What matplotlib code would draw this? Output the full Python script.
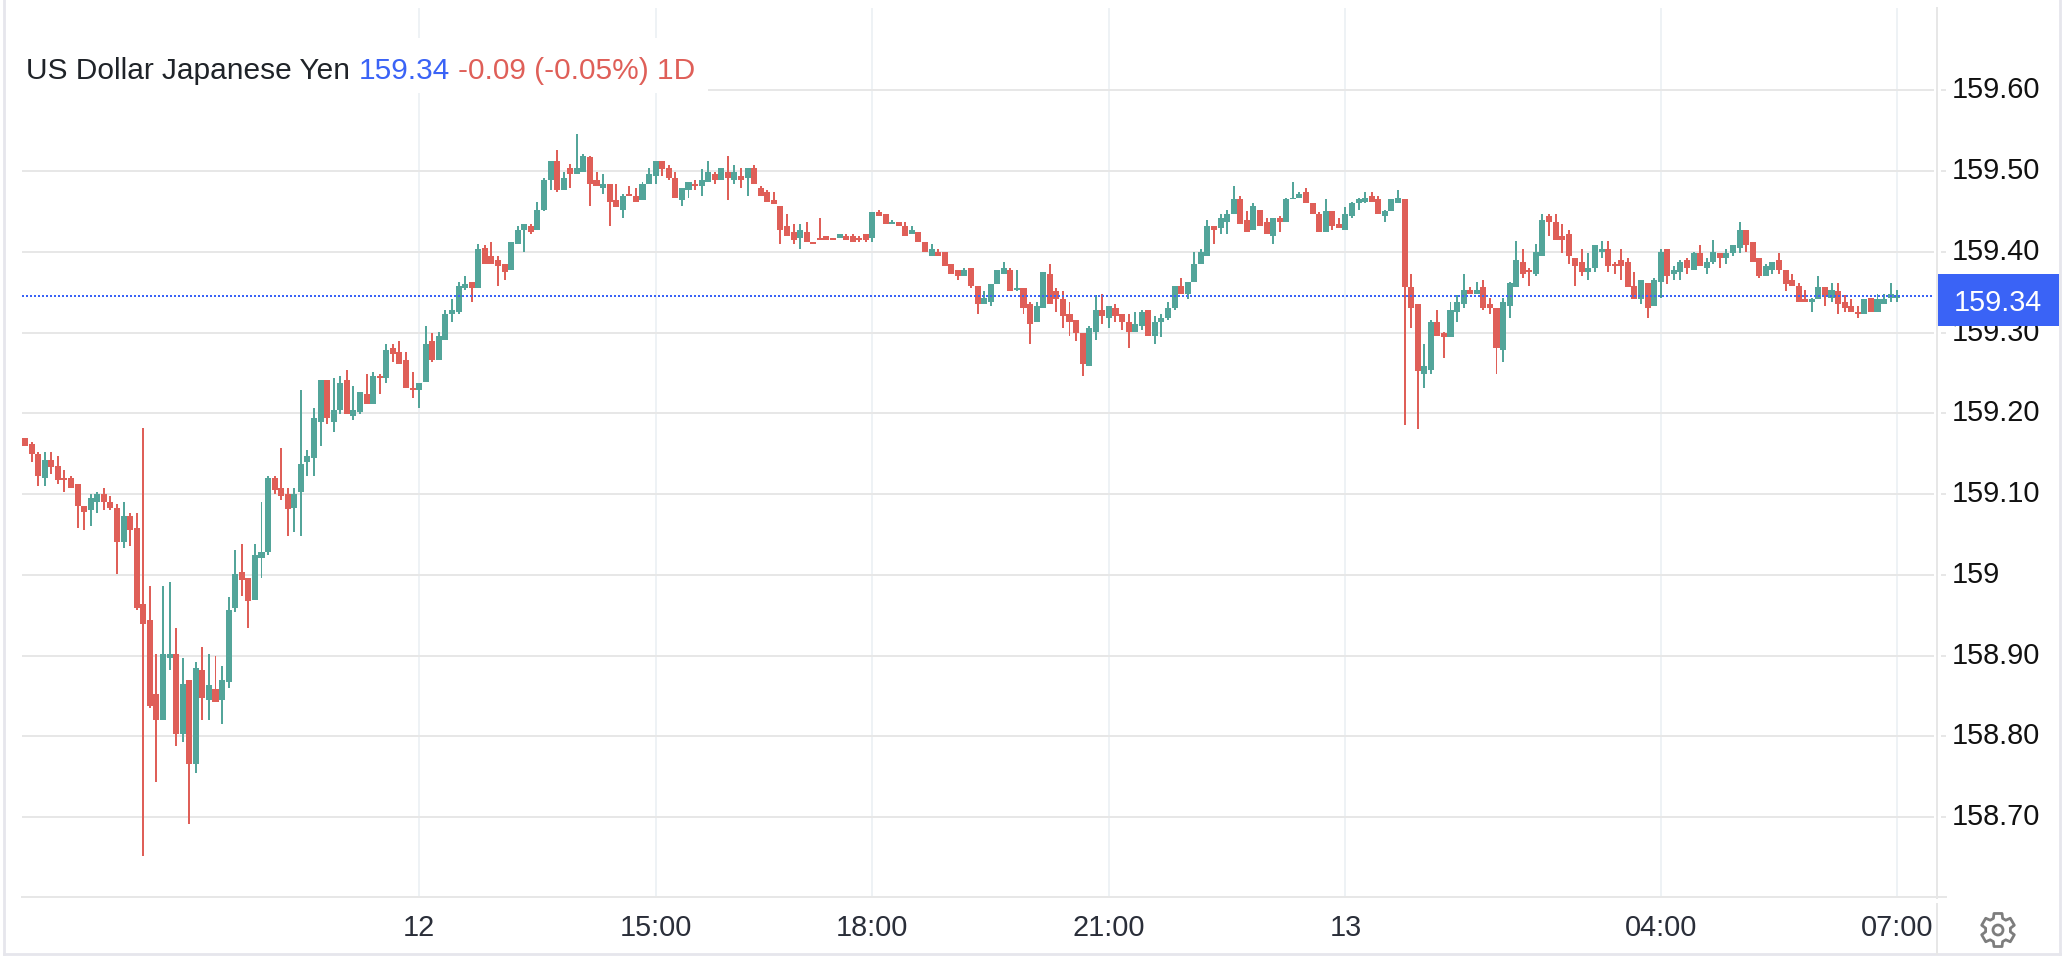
import numpy as np
import matplotlib
matplotlib.use("Agg")
import matplotlib.pyplot as plt
from matplotlib.lines import Line2D
from matplotlib.patches import Polygon, Rectangle, Circle
from matplotlib.transforms import Affine2D

plt.rcParams['font.family'] = ['Liberation Sans', 'DejaVu Sans']

# --- 5 minute candles ---
opens = [
    159.170,159.162,159.150,159.120,159.142,159.135,159.120,159.120,159.113,159.085,
    159.080,159.090,159.100,159.090,159.083,159.041,159.073,159.058,158.964,158.944,
    158.853,158.820,158.897,158.902,158.803,158.870,158.766,158.882,158.845,158.858,
    158.845,158.867,158.959,159.004,158.996,158.969,159.021,159.028,159.120,159.108,
    159.100,159.083,159.103,159.140,159.145,159.189,159.241,159.189,159.204,159.241,
    159.197,159.202,159.224,159.212,159.246,159.244,159.281,159.276,159.266,159.232,
    159.229,159.239,159.289,159.266,159.291,159.323,159.326,159.355,159.363,159.355,
    159.405,159.395,159.390,159.385,159.378,159.410,159.427,159.432,159.427,159.452,
    159.489,159.512,159.477,159.504,159.497,159.499,159.517,159.489,159.479,159.484,
    159.464,159.452,159.472,159.469,159.464,159.484,159.494,159.512,159.504,159.492,
    159.464,159.477,159.484,159.482,159.487,159.497,159.489,159.499,159.489,159.494,
    159.492,159.504,159.479,159.474,159.464,159.457,159.432,159.425,159.417,159.425,
    159.412,159.417,159.420,159.417,159.417,159.420,159.420,159.417,159.422,159.417,
    159.449,159.447,159.435,159.437,159.432,159.422,159.425,159.412,159.395,159.400,
    159.400,159.385,159.378,159.370,159.380,159.358,159.336,159.338,159.360,159.373,
    159.378,159.353,159.355,159.336,159.313,159.331,159.373,159.351,159.341,159.323,
    159.316,159.299,159.259,159.301,159.328,159.318,159.331,159.323,159.313,159.301,
    159.308,159.328,159.296,159.313,159.318,159.331,159.358,159.348,159.363,159.385,
    159.395,159.432,159.430,159.437,159.447,159.465,159.440,159.427,159.452,159.437,
    159.420,159.442,159.437,159.465,159.467,159.474,159.460,159.447,159.425,159.450,
    159.435,159.427,159.445,159.460,159.462,159.469,159.465,159.445,159.450,159.460,
    159.465,159.356,159.336,159.249,159.254,159.313,159.299,159.294,159.326,159.336,
    159.353,159.348,159.356,159.336,159.331,159.279,159.333,159.356,159.388,159.378,
    159.373,159.395,159.445,159.437,159.420,159.422,159.393,159.388,159.375,159.380,
    159.400,159.403,159.385,159.390,159.388,159.358,159.341,159.361,159.333,159.363,
    159.403,159.373,159.375,159.390,159.378,159.398,159.380,159.388,159.398,159.393,
    159.398,159.405,159.427,159.412,159.393,159.370,159.378,159.390,159.378,159.365,
    159.358,159.341,159.338,159.341,159.356,159.343,159.351,159.338,159.333,159.326,
    159.323,159.343,159.326,159.336,159.343,159.343,
]
highs = [
    159.170,159.165,159.152,159.152,159.152,159.147,159.130,159.123,159.113,159.085,
    159.100,159.103,159.108,159.098,159.088,159.090,159.076,159.076,159.182,158.986,
    158.902,158.986,158.991,158.934,158.897,158.870,158.892,158.910,158.902,158.900,
    158.887,158.972,159.031,159.038,158.996,159.038,159.090,159.123,159.123,159.157,
    159.108,159.108,159.229,159.155,159.207,159.241,159.241,159.244,159.246,159.254,
    159.234,159.227,159.249,159.251,159.249,159.286,159.286,159.289,159.276,159.251,
    159.237,159.308,159.299,159.301,159.328,159.341,159.363,159.370,159.363,159.410,
    159.408,159.412,159.395,159.385,159.412,159.432,159.435,159.435,159.462,159.492,
    159.512,159.526,159.499,159.509,159.546,159.521,159.519,159.499,159.497,159.484,
    159.484,159.472,159.482,159.479,159.487,159.504,159.512,159.512,159.507,159.499,
    159.479,159.487,159.489,159.502,159.512,159.499,159.504,159.519,159.507,159.504,
    159.504,159.507,159.482,159.477,159.474,159.457,159.447,159.435,159.435,159.437,
    159.412,159.442,159.420,159.417,159.422,159.422,159.422,159.420,159.422,159.449,
    159.452,159.447,159.440,159.437,159.437,159.432,159.425,159.412,159.410,159.403,
    159.400,159.385,159.378,159.380,159.380,159.358,159.351,159.360,159.378,159.388,
    159.380,159.378,159.355,159.338,159.338,159.375,159.385,159.355,159.351,159.338,
    159.316,159.299,159.308,159.346,159.348,159.333,159.336,159.323,159.323,159.326,
    159.328,159.328,159.321,159.323,159.338,159.358,159.368,159.363,159.400,159.403,
    159.440,159.432,159.447,159.452,159.482,159.469,159.450,159.460,159.452,159.442,
    159.442,159.445,159.467,159.487,159.474,159.479,159.460,159.449,159.465,159.450,
    159.442,159.455,159.462,159.467,159.474,159.474,159.469,159.452,159.465,159.477,
    159.465,159.373,159.336,159.286,159.316,159.328,159.301,159.338,159.346,159.373,
    159.356,159.363,159.365,159.343,159.331,159.343,159.363,159.413,159.403,159.380,
    159.410,159.447,159.447,159.447,159.435,159.427,159.393,159.403,159.398,159.408,
    159.413,159.413,159.388,159.403,159.393,159.375,159.365,159.361,159.368,159.403,
    159.403,159.383,159.390,159.393,159.400,159.408,159.393,159.415,159.398,159.403,
    159.408,159.437,159.427,159.412,159.393,159.385,159.388,159.398,159.378,159.373,
    159.361,159.353,159.343,159.370,159.356,159.361,159.361,159.346,159.341,159.333,
    159.341,159.343,159.348,159.348,159.361,159.353,
]
lows = [
    159.160,159.140,159.110,159.110,159.125,159.113,159.103,159.108,159.058,159.056,
    159.061,159.076,159.080,159.080,159.001,159.033,159.036,158.957,158.652,158.835,
    158.744,158.820,158.882,158.788,158.793,158.692,158.754,158.820,158.820,158.843,
    158.815,158.860,158.954,158.974,158.934,158.969,158.996,159.024,159.100,159.093,
    159.048,159.053,159.048,159.123,159.123,159.160,159.187,159.177,159.199,159.199,
    159.192,159.199,159.212,159.212,159.224,159.237,159.264,159.261,159.232,159.219,
    159.207,159.239,159.264,159.266,159.291,159.313,159.323,159.353,159.338,159.355,
    159.385,159.385,159.358,159.365,159.378,159.410,159.400,159.422,159.427,159.450,
    159.477,159.474,159.477,159.479,159.497,159.499,159.457,159.482,159.472,159.432,
    159.455,159.442,159.469,159.462,159.464,159.484,159.484,159.494,159.489,159.467,
    159.457,159.467,159.477,159.469,159.487,159.484,159.489,159.464,159.484,159.479,
    159.469,159.484,159.469,159.462,159.459,159.410,159.420,159.410,159.403,159.412,
    159.410,159.415,159.415,159.415,159.417,159.415,159.412,159.412,159.412,159.412,
    159.444,159.435,159.435,159.432,159.420,159.422,159.412,159.400,159.395,159.395,
    159.383,159.373,159.365,159.370,159.355,159.323,159.336,159.333,159.360,159.373,
    159.351,159.351,159.323,159.286,159.313,159.331,159.336,159.326,159.306,159.296,
    159.289,159.246,159.259,159.291,159.311,159.306,159.313,159.303,159.281,159.301,
    159.303,159.296,159.286,159.294,159.316,159.328,159.348,159.341,159.363,159.385,
    159.395,159.410,159.422,159.422,159.447,159.435,159.425,159.427,159.432,159.422,
    159.410,159.425,159.437,159.465,159.467,159.460,159.447,159.425,159.425,159.427,
    159.430,159.427,159.442,159.452,159.460,159.462,159.447,159.437,159.450,159.460,
    159.185,159.306,159.180,159.232,159.249,159.296,159.269,159.294,159.313,159.331,
    159.348,159.348,159.328,159.323,159.249,159.264,159.318,159.356,159.368,159.358,
    159.370,159.395,159.420,159.415,159.398,159.385,159.358,159.370,159.365,159.375,
    159.393,159.375,159.373,159.365,159.356,159.341,159.336,159.318,159.333,159.343,
    159.360,159.365,159.365,159.373,159.378,159.383,159.373,159.385,159.380,159.385,
    159.395,159.398,159.400,159.388,159.368,159.370,159.373,159.373,159.351,159.358,
    159.338,159.338,159.325,159.341,159.333,159.338,159.323,159.326,159.326,159.318,
    159.323,159.326,159.326,159.336,159.338,159.338,
]
closes = [
    159.160,159.150,159.123,159.142,159.133,159.118,159.118,159.108,159.085,159.078,
    159.095,159.100,159.090,159.083,159.041,159.073,159.056,158.959,158.939,158.838,
    158.820,158.902,158.902,158.803,158.865,158.766,158.885,158.848,158.863,158.843,
    158.870,158.957,159.001,158.994,158.967,159.024,159.028,159.120,159.105,159.098,
    159.081,159.100,159.137,159.147,159.194,159.241,159.194,159.204,159.237,159.199,
    159.204,159.227,159.212,159.246,159.244,159.279,159.274,159.261,159.232,159.229,
    159.237,159.286,159.266,159.296,159.323,159.328,159.358,159.360,159.355,159.403,
    159.385,159.385,159.383,159.375,159.412,159.427,159.435,159.425,159.452,159.489,
    159.512,159.477,159.492,159.497,159.504,159.519,159.484,159.482,159.484,159.462,
    159.455,159.469,159.469,159.462,159.484,159.497,159.512,159.502,159.492,159.467,
    159.479,159.487,159.482,159.489,159.499,159.489,159.504,159.492,159.499,159.489,
    159.504,159.484,159.469,159.462,159.459,159.427,159.420,159.415,159.427,159.412,
    159.410,159.415,159.415,159.415,159.422,159.415,159.412,159.415,159.415,159.449,
    159.444,159.435,159.437,159.432,159.420,159.427,159.412,159.400,159.403,159.395,
    159.383,159.373,159.370,159.378,159.358,159.336,159.343,159.360,159.378,159.380,
    159.351,159.355,159.331,159.311,159.333,159.375,159.336,159.341,159.321,159.313,
    159.299,159.261,159.306,159.328,159.321,159.333,159.321,159.313,159.301,159.311,
    159.326,159.296,159.313,159.318,159.331,159.358,159.348,159.363,159.385,159.400,
    159.432,159.427,159.442,159.447,159.465,159.435,159.425,159.457,159.432,159.422,
    159.442,159.437,159.465,159.467,159.472,159.460,159.447,159.425,159.450,159.432,
    159.430,159.447,159.460,159.465,159.467,159.462,159.447,159.450,159.465,159.467,
    159.356,159.331,159.252,159.259,159.313,159.296,159.294,159.328,159.338,159.353,
    159.348,159.353,159.331,159.331,159.281,159.338,159.361,159.390,159.373,159.375,
    159.400,159.440,159.437,159.415,159.415,159.395,159.383,159.375,159.380,159.408,
    159.403,159.383,159.383,159.383,159.356,159.341,159.365,159.331,159.365,159.400,
    159.370,159.378,159.388,159.380,159.398,159.383,159.388,159.400,159.393,159.398,
    159.408,159.427,159.408,159.388,159.370,159.383,159.388,159.378,159.360,159.358,
    159.338,159.338,159.341,159.356,159.346,159.353,159.336,159.331,159.326,159.323,
    159.341,159.326,159.341,159.341,159.348,159.346,
]

last_price = 159.345
y_ticks = [159.6, 159.5, 159.4, 159.3, 159.2, 159.1, 159.0, 158.9, 158.8, 158.7]
y_labels = ['159.60', '159.50', '159.40', '159.30', '159.20', '159.10', '159', '158.90', '158.80', '158.70']
# candle number under each time label
x_ticks = [60, 96, 129, 165, 201, 249, 285]
x_labels = ['12', '15:00', '18:00', '21:00', '13', '04:00', '07:00']

W, H = 2064, 956
GREEN = '#53a59a'
RED = '#df5f58'
BLUE = '#3a63f6'
GRID = '#e7e7e7'
VGRID = '#eef2f5'
FRAME = '#e6e6ec'
GEAR = '#7d7d7d'
LINE_W = 1.44  # 2 px

fig = plt.figure(figsize=(W / 100, H / 100), dpi=100)
# pixel coordinates, measured from the top left of the picture
px = Affine2D().scale(1, -1).translate(0, H)

ax = fig.add_axes([22 / W, 1 - 897 / H, (1934 - 22) / W, (897 - 8) / H])
idx = np.arange(len(opens))
o, h, l, c = map(np.array, (opens, highs, lows, closes))
colors = [GREEN if cc >= oo else RED for oo, cc in zip(o, c)]

# wicks and bodies, both as bars so that they snap to whole pixels
ax.bar(idx, h - l, bottom=l, width=0.3, color=colors, linewidth=0, zorder=3)
ax.bar(idx, np.abs(c - o), bottom=np.minimum(o, c), width=0.92, color=colors, linewidth=0, zorder=3)
ax.axhline(last_price, color=BLUE, linewidth=LINE_W, linestyle=(0, (1, 1)), zorder=4)

ax.set_xlim(-0.457, 290.6)
ax.set_ylim(158.601, 159.702)

ax.set_yticks(y_ticks, y_labels)
ax.yaxis.tick_right()
ax.tick_params(axis='y', length=8.6, width=LINE_W, color=GRID, labelsize=20.8, pad=4, labelcolor='#111111')
ax.set_xticks(x_ticks, x_labels)
ax.tick_params(axis='x', length=0, labelsize=20.8, pad=12, labelcolor='#2a2e39')
ax.grid(True, axis='y', color=GRID, linewidth=LINE_W)
ax.grid(True, axis='x', color=VGRID, linewidth=LINE_W)
ax.set_axisbelow(True)

# the price labels sit a little above their grid lines
for label in ax.get_yticklabels():
    label.set_transform(label.get_transform() + Affine2D().translate(0, 3))

for side in ('top', 'left', 'right'):
    ax.spines[side].set_visible(False)
ax.spines['bottom'].set_color(GRID)
ax.spines['bottom'].set_linewidth(LINE_W)

# white strip behind the header text
ax.add_patch(Rectangle((22, 93), 686, -55, transform=px, facecolor='white', edgecolor='none', zorder=2))

# small gap between the grid and the price scale line
fig.add_artist(Rectangle((1934, 8), 7, 890, transform=px, facecolor='white', edgecolor='none'))

# frame of the widget
for xs, ys in [((4, 4), (0, 954)), ((4, 2060), (954, 954)), ((2060, 2060), (0, 954))]:
    fig.add_artist(Line2D(xs, ys, transform=px, color=FRAME, linewidth=2.0))
for xs, ys in [((1937, 1937), (8, 898)), ((1937, 1937), (904, 954)), ((1934, 1946), (897, 897))]:
    fig.add_artist(Line2D(xs, ys, transform=px, color=GRID, linewidth=LINE_W))

# header, one piece of text after the other
parts = [('US Dollar Japanese Yen', '#1f2328'), ('159.34', BLUE), ('-0.09 (-0.05%) 1D', RED)]
renderer = fig.canvas.get_renderer()
x_pos = 26.5
for part, col in parts:
    t = fig.text(x_pos, 71, part, transform=px, color=col, fontsize=21.5, va='center', ha='left')
    x_pos = t.get_window_extent(renderer).x1 + 8

# price tag on the axis
fig.add_artist(Rectangle((1937, 326), 122, -52, transform=px, facecolor=BLUE, edgecolor='none'))
fig.text(1998, 303, '159.34', transform=px, color='white', fontsize=20.8, ha='center', va='center')

# settings gear
angles, radii = [], []
for k in range(6):
    a = np.radians(-90 + 60 * k)
    angles += [a - 0.24, a + 0.24, a + 0.38, a + 0.67]
    radii += [17, 17, 12.5, 12.5]
angles, radii = np.array(angles), np.array(radii)
gear = np.column_stack([1998 + radii * np.cos(angles), 930 + radii * np.sin(angles)])
fig.add_artist(Polygon(gear, closed=True, transform=px, facecolor='none', edgecolor=GEAR, linewidth=2.0, joinstyle='round'))
fig.add_artist(Circle((1998, 930), 5, transform=px, facecolor='none', edgecolor=GEAR, linewidth=2.0))

fig.savefig('out.png', dpi=100)
